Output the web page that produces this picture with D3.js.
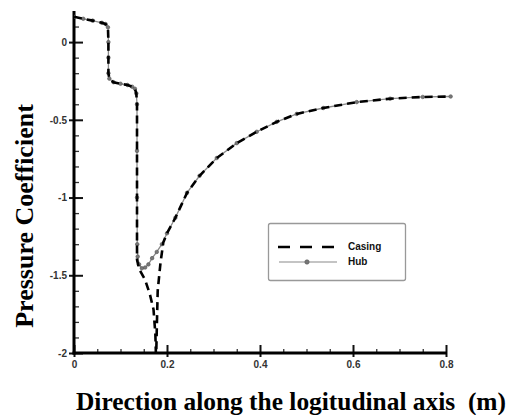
<!DOCTYPE html>
<html><head><meta charset="utf-8">
<script src="https://cdn.jsdelivr.net/npm/d3@7"></script>
<style>body{margin:0;background:#fff}svg{display:block}</style>
</head><body>
<svg id="c" width="512" height="415"></svg>
<script>
// ---- data ----
const hubX = [0,0.02,0.04,0.06,0.068,0.073,0.074,0.074,0.074,0.076,0.085,0.1,0.115,0.125,0.131,0.134,0.1355,0.1355,0.1355,0.136,0.137,0.140,0.146,0.153,0.160,0.168,0.178,0.189,0.2,0.218,0.243,0.27,0.307,0.35,0.393,0.436,0.479,0.536,0.608,0.68,0.75,0.81];
const hubY = [0.163,0.15,0.138,0.124,0.116,0.095,0.0,-0.1,-0.2,-0.235,-0.258,-0.268,-0.276,-0.287,-0.3,-0.33,-0.4,-0.7,-1.0,-1.3,-1.38,-1.43,-1.455,-1.45,-1.43,-1.39,-1.35,-1.30,-1.23,-1.13,-0.97,-0.86,-0.746,-0.65,-0.577,-0.513,-0.462,-0.424,-0.386,-0.364,-0.353,-0.350];
const casX = [0,0.02,0.04,0.06,0.068,0.073,0.074,0.074,0.076,0.085,0.1,0.115,0.125,0.131,0.134,0.1355,0.1355,0.1355,0.14,0.153,0.163,0.171,0.175,0.1765,0.178,0.180,0.186,0.192,0.2,0.218,0.243,0.27,0.307,0.35,0.393,0.436,0.479,0.536,0.608,0.68,0.75,0.81];
const casY = [0.163,0.15,0.138,0.124,0.116,0.095,0.0,-0.2,-0.235,-0.258,-0.268,-0.276,-0.287,-0.3,-0.33,-0.4,-1.0,-1.40,-1.46,-1.53,-1.62,-1.72,-1.88,-2.05,-1.85,-1.60,-1.42,-1.29,-1.23,-1.13,-0.97,-0.86,-0.746,-0.65,-0.577,-0.513,-0.462,-0.424,-0.386,-0.364,-0.353,-0.350];
const xMajor = [0,0.2,0.4,0.6,0.8];
const xMinor = [0.05,0.1,0.15,0.25,0.3,0.35,0.45,0.5,0.55,0.65,0.7,0.75];
const yMajor = [0,-0.5,-1,-1.5,-2];
const yMinor = [0.1,-0.1,-0.2,-0.3,-0.4,-0.6,-0.7,-0.8,-0.9,-1.1,-1.2,-1.3,-1.4,-1.6,-1.7,-1.8,-1.9];
const seriesNames = ["Casing","Hub"];
const xTitle = "Direction along the logitudinal axis  (m)";
const yTitle = "Pressure Coefficient";

// ---- layout ----
const svg = d3.select("#c");
const L = 74, R = 446, T = 11, B = 353;
const x = d3.scaleLinear().domain([0,0.8]).range([L,R]);
const y = d3.scaleLinear().domain([-2,0.2]).range([B,T]);

svg.append("clipPath").attr("id","clip").append("rect")
  .attr("x",L).attr("y",T).attr("width",R-L+10).attr("height",B-T);

const fmt = d => String(d);
const tickFont = sel => sel.attr("font-family","Liberation Sans, Arial, sans-serif").attr("font-size",10)
  .attr("font-weight","bold").attr("fill","#333");

// y axis
const gy = svg.append("g").attr("transform",`translate(${L},0)`);
gy.call(d3.axisLeft(y).tickValues(yMajor).tickSize(-9).tickSizeOuter(0).tickPadding(7).tickFormat(fmt));
gy.call(g=>g.select(".domain").remove());
gy.selectAll("text").call(tickFont);
gy.selectAll("line").attr("stroke","#111").attr("stroke-width",2);
const gy2 = svg.append("g").attr("transform",`translate(${L},0)`);
gy2.call(d3.axisLeft(y).tickValues(yMajor).tickSize(5).tickFormat(""));
gy2.select(".domain").remove();
gy2.selectAll("line").attr("stroke","#111").attr("stroke-width",2);
const gym = svg.append("g").attr("transform",`translate(${L},0)`);
gym.call(d3.axisLeft(y).tickValues(yMinor).tickSize(-5).tickFormat(""));
gym.select(".domain").remove();
gym.selectAll("line").attr("stroke","#333").attr("stroke-width",1.3);

// x axis
const gx = svg.append("g").attr("transform",`translate(0,${B})`);
gx.call(d3.axisBottom(x).tickValues(xMajor).tickSize(-8).tickPadding(8).tickFormat(fmt));
gx.select(".domain").remove();
gx.selectAll("text").call(tickFont);
gx.selectAll("line").attr("stroke","#111").attr("stroke-width",2);
const gx2 = svg.append("g").attr("transform",`translate(0,${B})`);
gx2.call(d3.axisBottom(x).tickValues(xMajor).tickSize(4).tickFormat(""));
gx2.select(".domain").remove();
gx2.selectAll("line").attr("stroke","#111").attr("stroke-width",2);
const gxm = svg.append("g").attr("transform",`translate(0,${B})`);
gxm.call(d3.axisBottom(x).tickValues(xMinor).tickSize(-4).tickFormat(""));
gxm.select(".domain").remove();
gxm.selectAll("line").attr("stroke","#333").attr("stroke-width",1.3);

// axis lines
svg.append("line").attr("x1",L).attr("x2",L).attr("y1",T).attr("y2",B+1.5).attr("stroke","#000").attr("stroke-width",3);
svg.append("line").attr("x1",L-1.5).attr("x2",R+1).attr("y1",B).attr("y2",B).attr("stroke","#000").attr("stroke-width",3);

// series
const hub = hubX.map((d,i)=>[d,hubY[i]]);
const cas = casX.map((d,i)=>[d,casY[i]]);
const line = d3.line().x(d=>x(d[0])).y(d=>y(d[1]));
const plot = svg.append("g").attr("clip-path","url(#clip)");
plot.append("path").datum(hub).attr("d",line).attr("fill","none").attr("stroke","#8a8a8a").attr("stroke-width",1.3);
plot.selectAll("circle.h").data(hub).enter().append("circle").attr("class","h")
  .attr("cx",d=>x(d[0])).attr("cy",d=>y(d[1])).attr("r",1.8).attr("fill","#777").attr("stroke","#555").attr("stroke-width",0.6);
plot.append("path").datum(cas).attr("d",line).attr("fill","none").attr("stroke","#000")
  .attr("stroke-width",2.6).attr("stroke-dasharray","8,5");

// legend
const lg = svg.append("g");
lg.append("rect").attr("x",268.5).attr("y",223.5).attr("width",137).attr("height",57).attr("rx",2)
  .attr("fill","#fff").attr("stroke","#999").attr("stroke-width",1.3);
lg.append("line").attr("x1",278).attr("x2",336).attr("y1",247).attr("y2",247).attr("stroke","#000").attr("stroke-width",2.6).attr("stroke-dasharray","12,10");
lg.append("line").attr("x1",279).attr("x2",337).attr("y1",262).attr("y2",262).attr("stroke","#8a8a8a").attr("stroke-width",1.2);
lg.append("circle").attr("cx",307).attr("cy",262).attr("r",2.2).attr("fill","#777").attr("stroke","#555").attr("stroke-width",0.6);
lg.selectAll("text").data(seriesNames).enter().append("text")
  .attr("x",348).attr("y",(d,i)=>250+i*15).text(d=>d)
  .attr("font-family","Liberation Sans, Arial, sans-serif").attr("font-weight","bold").attr("font-size",10).attr("fill","#111");

// titles
svg.append("text").attr("x",76).attr("y",410).text(xTitle)
  .attr("font-family","Liberation Serif, Times New Roman, serif").attr("font-weight","bold").attr("font-size",25).attr("fill","#000")
  .attr("textLength",430).attr("lengthAdjust","spacingAndGlyphs")
  .style("white-space","pre");
svg.append("text").attr("transform","translate(33,216) rotate(-90)").attr("text-anchor","middle").text(yTitle)
  .attr("font-family","Liberation Serif, Times New Roman, serif").attr("font-weight","bold").attr("font-size",26).attr("fill","#000");
</script>
</body></html>
